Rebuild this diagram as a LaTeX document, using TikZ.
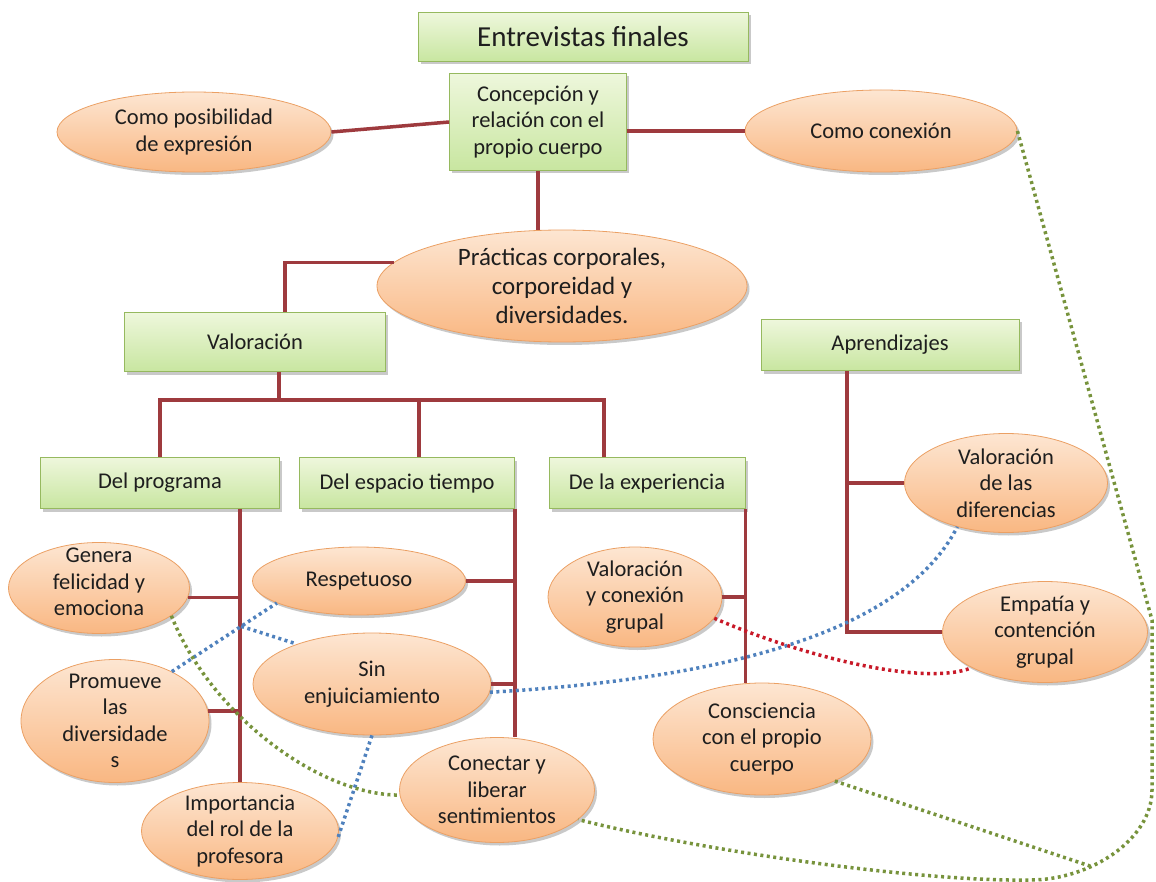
\documentclass[tikz,border=0pt]{standalone}
\usepackage{fontspec}
\setmainfont{Carlito}
\usetikzlibrary{shapes.geometric,shadows}

\definecolor{inkcol}{RGB}{30,30,30}
\definecolor{boxtop}{RGB}{238,247,220}
\definecolor{boxbot}{RGB}{200,230,160}
\definecolor{boxedge}{RGB}{150,185,95}
\definecolor{ovaltop}{RGB}{253,230,210}
\definecolor{ovalbot}{RGB}{249,183,130}
\definecolor{ovaledge}{RGB}{235,160,100}
\definecolor{treered}{RGB}{158,58,62}
\definecolor{dotgreen}{RGB}{119,147,60}
\definecolor{dotblue}{RGB}{79,129,189}
\definecolor{dotred}{RGB}{200,25,40}

\tikzset{
  softshadow/.style={drop shadow={shadow xshift=2.5pt,shadow yshift=-3pt,opacity=0.3,fill=black!70}},
  wh/.style 2 args={minimum width=#1pt,minimum height=#2pt},
  greenbox/.style={rectangle,draw=boxedge,line width=0.8pt,top color=boxtop,bottom color=boxbot,
    softshadow,inner sep=0pt,align=center,text=inkcol,font=\fontsize{22.5}{26.5}\selectfont},
  oval/.style={ellipse,draw=ovaledge,line width=0.8pt,top color=ovaltop,bottom color=ovalbot,
    softshadow,inner sep=0pt},
  ovaltext/.style={align=center,text=inkcol,font=\fontsize{22.5}{26.5}\selectfont},
  treeline/.style={draw=treered,line width=3.5pt},
  dotlink/.style={line width=3.5pt,dash pattern=on 3pt off 3.5pt},
}

\begin{document}
\begin{tikzpicture}[x=1pt,y=-1pt]

\useasboundingbox (0,0) rectangle (1156,882);

% boxes
\node[greenbox,wh={330}{49},font=\fontsize{29}{34}\selectfont] (title) at (583,37) {Entrevistas finales};
\node[greenbox,wh={177}{97}] (concep) at (538,122) {Concepción y\\relación con el\\propio cuerpo};
\node[greenbox,wh={261}{59}] (valor) at (255,342) {Valoración};
\node[greenbox,wh={258}{51}] (aprend) at (890,345) {Aprendizajes};
\node[greenbox,wh={239}{51}] (delprog) at (160,483) {Del programa};
\node[greenbox,wh={215}{51}] (delesp) at (407,483) {Del espacio tiempo};
\node[greenbox,wh={196}{51}] (deexp) at (647,483) {De la experiencia};

% ovals
\node[oval,wh={274}{80},label={[ovaltext]center:Como posibilidad\\de expresión}] (posib) at (194,132) {};
\node[oval,wh={272}{82},label={[ovaltext]center:Como conexión}] (conex) at (881,131) {};
\node[oval,wh={370}{112},label={[ovaltext,font=\fontsize{25}{29}\selectfont]center:Prácticas corporales,\\corporeidad y\\diversidades.}] (practicas) at (562,286) {};
\node[oval,wh={181}{91},label={[ovaltext,yshift=6pt]center:Genera\\felicidad y\\emociona}] (genera) at (99,588) {};
\node[oval,wh={213}{68},label={[ovaltext]center:Respetuoso}] (respet) at (359,581) {};
\node[oval,wh={238}{102},label={[ovaltext]center:Sin\\enjuiciamiento}] (sinenj) at (372,684) {};
\node[oval,wh={188}{123},label={[ovaltext]center:Promueve\\las\\diversidade\\s}] (promueve) at (115,721) {};
\node[oval,wh={197}{97},label={[ovaltext]center:Importancia\\del rol de la\\profesora}] (rolprof) at (240,831) {};
\node[oval,wh={195}{105},label={[ovaltext]center:Conectar y\\liberar\\sentimientos}] (conectar) at (497,790) {};
\node[oval,wh={174}{100},label={[ovaltext]center:Valoración\\y conexión\\grupal}] (valcon) at (635,597) {};
\node[oval,wh={218}{112},label={[ovaltext]center:Consciencia\\con el propio\\cuerpo}] (conscien) at (762,739) {};
\node[oval,wh={203}{99},label={[ovaltext]center:Valoración\\de las\\diferencias}] (valdif) at (1006,483) {};
\node[oval,wh={205}{101},label={[ovaltext]center:Empatía y\\contención\\grupal}] (empatia) at (1045,632) {};

% tree
\draw[treeline] (posib.east) -- (concep.west);
\draw[treeline] (conex.west -| concep.east) -- (conex.west);
\draw[treeline] (concep.south) -- (concep.south |- practicas.north);
\draw[treeline] (practicas.172) -| ([xshift=30pt]valor.north);

\coordinate (bus) at (0,400);
\coordinate (valfoot) at ([xshift=24pt]valor.south);
\coordinate (esptop) at ([xshift=12pt]delesp.north);
\coordinate (exptop) at ([xshift=-43pt]deexp.north);
\draw[treeline] (valfoot) -- (valfoot |- bus);
\draw[treeline] (delprog.north) |- (exptop |- bus) -- (exptop);
\draw[treeline] (esptop) -- (esptop |- bus);

\coordinate (progline) at (rolprof.north |- delprog.south);
\draw[treeline] (progline) -- (rolprof.north);
\draw[treeline] (genera.-6) -- (genera.-6 -| progline);
\draw[treeline] (promueve.6) -- (promueve.6 -| progline);

\draw[treeline] (delesp.south east) -- (delesp.south east |- conectar.north);
\draw[treeline] (respet.east) -- (respet.east -| delesp.south east);
\draw[treeline] (sinenj.east) -- (sinenj.east -| delesp.south east);

\draw[treeline] (deexp.south east) -- (deexp.south east |- conscien.north);
\draw[treeline] (valcon.east) -- (valcon.east -| deexp.south east);

\coordinate (aprfoot) at ([xshift=-43pt]aprend.south);
\draw[treeline] (aprfoot) |- (empatia.west);
\draw[treeline] (valdif.west) -- (valdif.west -| aprfoot);

% dotted links
\draw[dotlink,dotblue] (promueve.41) -- coordinate[pos=0.66] (bcross) (respet.195);
\draw[dotlink,dotblue] (bcross) -- (sinenj.152);
\draw[dotlink,dotblue] (sinenj.-4) .. controls +(208,-12) and +(-58,114) .. (valdif.222);
\draw[dotlink,dotblue] (sinenj.south) -- (rolprof.-4);
\draw[dotlink,dotred] (valcon.-15) .. controls +(80,35) and +(-50,20) .. (empatia.206);
\draw[dotlink,dotgreen] (genera.-21) .. controls +(40,100) and +(-80,0) .. (conectar.183);

\coordinate (gturn) at (1152,620);
\coordinate (gdown) at (1152,790);
\coordinate (gfloor) at (1030,880);
\coordinate (gmeet) at (1090,866);
\draw[dotlink,dotgreen] (conex.east) -- (gturn) -- (gdown) .. controls +(0,50) and +(60,0) .. (gfloor)
  .. controls +(-110,2) and +(122,31) .. (conectar.-20);
\draw[dotlink,dotgreen] (conscien.-30) -- (gmeet);

\end{tikzpicture}
\end{document}
